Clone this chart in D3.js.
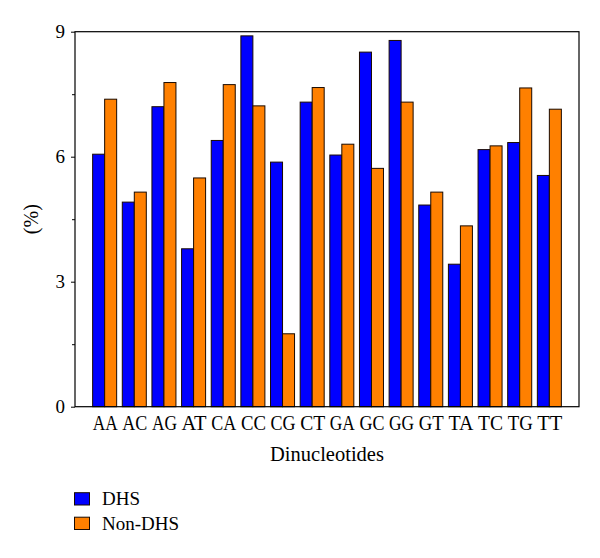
<!DOCTYPE html>
<html>
<head>
<meta charset="utf-8">
<script src="https://cdn.jsdelivr.net/npm/d3@7"></script>
<style>
  html, body { margin: 0; padding: 0; background: #fff; }
  svg { display: block; }
  text { font-family: "Liberation Serif", "DejaVu Serif", serif; fill: #000; }
</style>
</head>
<body>
<svg id="chart" width="600" height="558"></svg>
<script>
const categories = ["AA","AC","AG","AT","CA","CC","CG","CT","GA","GC","GG","GT","TA","TC","TG","TT"];
const dhsValues = [6.06, 4.91, 7.20, 3.79, 6.39, 8.90, 5.87, 7.31, 6.04, 8.51, 8.79, 4.84, 3.42, 6.17, 6.34, 5.55];
const nonDhsValues = [7.38, 5.15, 7.78, 5.49, 7.73, 7.22, 1.75, 7.66, 6.30, 5.72, 7.31, 5.15, 4.34, 6.26, 7.65, 7.14];
const seriesNames = ["DHS", "Non-DHS"];
const seriesColors = ["#0000FF", "#FF8000"];
const yTicks = [0, 3, 6, 9];
const yMinorTicks = [1.5, 4.5, 7.5];

const svg = d3.select("#chart");
const mLeft = 75, mRight = 579, mTop = 31.7, mBottom = 406.7;

const x = d3.scaleLinear().domain([0, categories.length + 1]).range([mLeft, mRight]);
const y = d3.scaleLinear().domain([0, 9]).range([mBottom, mTop]);
const step = x(1) - x(0);
const barW = step * 0.405;

const series = [dhsValues, nonDhsValues];

// bars
series.forEach((vals, si) => {
  svg.append("g").selectAll("rect")
    .data(vals)
    .join("rect")
    .attr("x", (d, i) => x(i + 1) + (si === 0 ? -barW : 0))
    .attr("y", d => y(d))
    .attr("width", barW)
    .attr("height", d => y(0) - y(d))
    .attr("fill", seriesColors[si])
    .attr("stroke", "#1a0a00")
    .attr("stroke-width", 1);
});

// frame
svg.append("rect")
  .attr("x", mLeft).attr("y", mTop)
  .attr("width", mRight - mLeft).attr("height", mBottom - mTop)
  .attr("fill", "none").attr("stroke", "#000").attr("stroke-width", 1.2);

// y axis
const yAxis = d3.axisLeft(y).tickValues(yTicks).tickSize(4).tickPadding(6).tickFormat(d3.format("d"));
const yg = svg.append("g").attr("transform", `translate(${mLeft},0)`).call(yAxis);
yg.select(".domain").remove();
yg.selectAll("text").style("font-family", "Liberation Serif, serif").style("font-size", "19px").attr("fill", "#000");
yg.selectAll("line").attr("stroke", "#000");
const yMinor = d3.axisLeft(y).tickValues(yMinorTicks).tickSize(3).tickFormat("");
const ymg = svg.append("g").attr("transform", `translate(${mLeft},0)`).call(yMinor);
ymg.select(".domain").remove();
ymg.selectAll("line").attr("stroke", "#000");

// x axis labels
const xAxis = d3.axisBottom(x).tickValues(d3.range(1, categories.length + 1)).tickSize(0).tickPadding(8)
  .tickFormat(d => categories[d - 1]);
const xg = svg.append("g").attr("transform", `translate(0,${mBottom})`).call(xAxis);
xg.select(".domain").remove();
xg.selectAll("text")
  .style("font-family", "Liberation Serif, serif").style("font-size", "21px").attr("fill", "#000")
  .attr("textLength", 25).attr("lengthAdjust", "spacingAndGlyphs");

// axis titles
svg.append("text")
  .attr("x", (mLeft + mRight) / 2).attr("y", 461)
  .attr("text-anchor", "middle").style("font-size", "20.5px")
  .text("Dinucleotides");

svg.append("text")
  .attr("transform", `translate(38,${(mTop + mBottom) / 2}) rotate(-90)`)
  .attr("text-anchor", "middle").style("font-size", "20px")
  .text("(%)");

// legend
const lg = svg.append("g");
seriesNames.forEach((name, i) => {
  const yy = 492.7 + i * 24.5;
  lg.append("rect").attr("x", 74.5).attr("y", yy).attr("width", 15).attr("height", 12.3)
    .attr("fill", seriesColors[i]).attr("stroke", "#1a0a00").attr("stroke-width", 1);
  lg.append("text").attr("x", 102).attr("y", yy + 12.5).style("font-size", "19px").text(name);
});
</script>
</body>
</html>
